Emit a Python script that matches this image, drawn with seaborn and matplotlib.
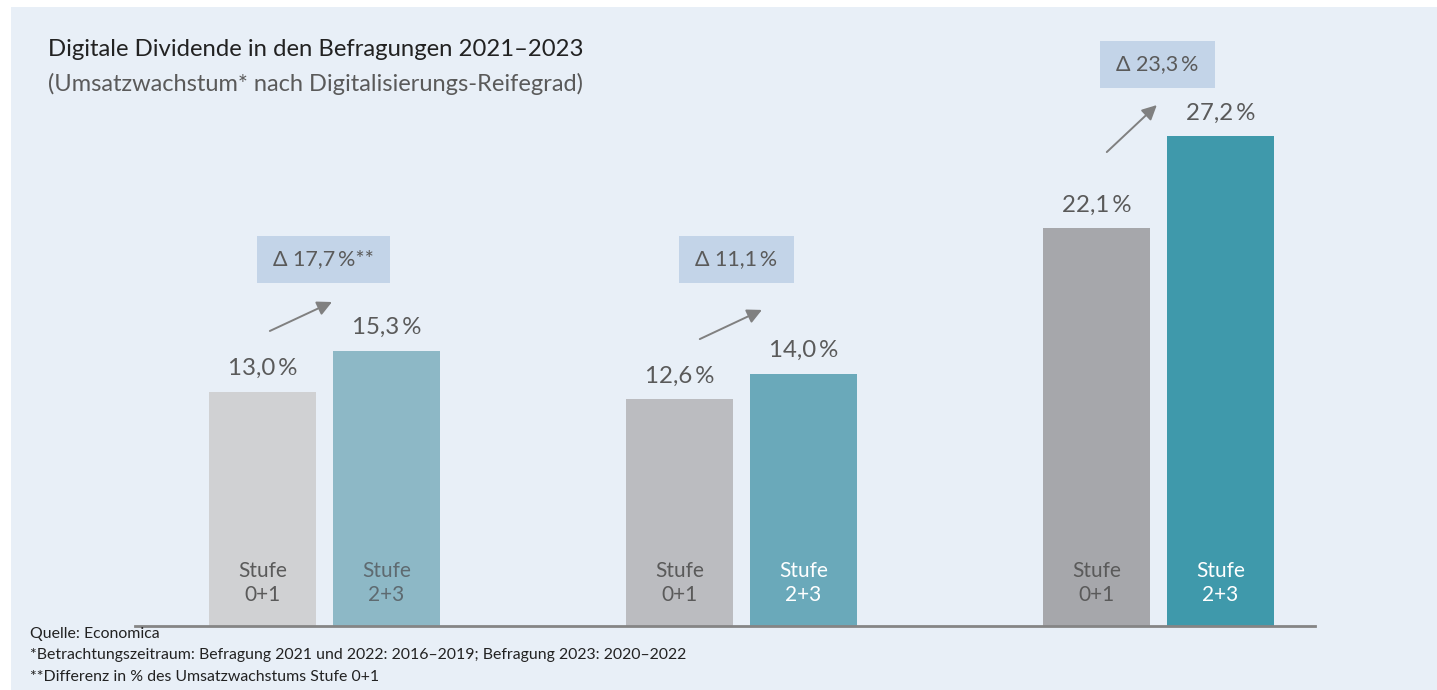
import numpy as np
import pandas as pd
import matplotlib
matplotlib.use("Agg")
import matplotlib.pyplot as plt
import seaborn as sns
from matplotlib.patches import Rectangle

# --- data
surveys = ["Befragung 2021", "Befragung 2022", "Befragung 2023"]
levels = ["Stufe 0+1", "Stufe 2+3"]
growth_low = [13.0, 12.6, 22.1]     # Stufe 0+1
growth_high = [15.3, 14.0, 27.2]    # Stufe 2+3
delta_labels = ["\u0394 17,7\u2009%**", "\u0394 11,1\u2009%", "\u0394 23,3\u2009%"]
bar_labels = ["Stufe\n0+1", "Stufe\n2+3"]

# --- styling
BG = "#e8eff7"
BOX = "#c3d4e8"
TXT = "#5a5a5a"
low_colors = ["#d0d1d3", "#bbbcc0", "#a6a7ab"]
high_colors = ["#8db8c6", "#6aa9ba", "#3f99ab"]
inside_colors_high = ["#5e6a70", "white", "white"]

# layout (data coords) for the delta boxes / arrows
box_centers = [(-0.002, 20.36), (0.988, 20.36), (1.998, 31.19)]
box_widths = [0.319, 0.276, 0.276]
BOX_H = 2.61
arrows = [((-0.131, 16.39), (0.018, 18.0)),
          ((0.900, 15.94), (1.049, 17.56)),
          ((1.876, 26.33), (1.996, 28.94))]

df = pd.DataFrame({
    "survey": surveys * 2,
    "level": [levels[0]] * 3 + [levels[1]] * 3,
    "value": growth_low + growth_high,
})

sns.set_theme(style="white")
plt.rcParams["font.family"] = ["Lato", "DejaVu Sans"]

W, H = 1437, 690
fig = plt.figure(figsize=(W / 100, H / 100), dpi=100, facecolor="white")
fig.patches.append(Rectangle((11 / W, 0), 1 - 11 / W, 1 - 7 / H,
                             transform=fig.transFigure, facecolor=BG,
                             edgecolor="none", zorder=-10))

ax = fig.add_axes([135 / W, (H - 626) / H, 1180 / W, 596 / H])
ax.set_facecolor("none")

sns.barplot(data=df, x="survey", y="value", hue="level", ax=ax,
            width=0.595, gap=0.137, legend=False, saturation=1)

# per-bar colours
for cont, cols in zip(ax.containers, [low_colors, high_colors]):
    for patch, c in zip(cont.patches, cols):
        patch.set_facecolor(c)
        patch.set_edgecolor("none")

ax.set_xlim(-0.4544, 2.3753)
ax.set_ylim(0, 596 / 18)
ax.set_xlabel("")
ax.set_ylabel("")
ax.set_xticks([])
ax.set_yticks([])
for side in ["top", "right", "left"]:
    ax.spines[side].set_visible(False)
ax.spines["bottom"].set_color("#858585")
ax.spines["bottom"].set_linewidth(2)

# value labels + inside labels
for k, cont in enumerate(ax.containers):
    for i, patch in enumerate(cont.patches):
        xc = patch.get_x() + patch.get_width() / 2
        v = patch.get_height()
        ax.annotate(f"{v:.1f}".replace(".", ",") + "\u2009%", (xc, v),
                    xytext=(0, 12), textcoords="offset points",
                    ha="center", va="baseline", fontsize=17.3, color=TXT)
        col = TXT if k == 0 else inside_colors_high[i]
        ax.text(xc, 2.39, bar_labels[k], ha="center", va="center",
                fontsize=15, color=col, linespacing=1.25)

# delta boxes and arrows
for (cx, cy), bw, lab in zip(box_centers, box_widths, delta_labels):
    ax.add_patch(Rectangle((cx - bw / 2, cy - BOX_H / 2), bw, BOX_H,
                           facecolor=BOX, edgecolor="none", clip_on=False))
    ax.text(cx, cy, lab, ha="center", va="center", fontsize=15.5, color=TXT)
for start, end in arrows:
    ax.annotate("", xy=end, xytext=start,
                arrowprops=dict(arrowstyle="-|>", color="#808080", lw=1.4,
                                mutation_scale=22, shrinkA=0, shrinkB=0))

# title / subtitle / footnotes
fig.text(48 / W, 1 - 50 / H, "Digitale Dividende in den Befragungen 2021\u20132023",
         fontsize=17.2, color="#222222", va="center", ha="left")
fig.text(48 / W, 1 - 84 / H, "(Umsatzwachstum* nach Digitalisierungs-Reifegrad)",
         fontsize=17.0, color="#5a5a5a", va="center", ha="left")
notes = ["Quelle: Economica",
         "*Betrachtungszeitraum: Befragung 2021 und 2022: 2016\u20132019; Befragung 2023: 2020\u20132022",
         "**Differenz in % des Umsatzwachstums Stufe 0+1"]
for yy, n in zip([634, 655, 677], notes):
    fig.text(30 / W, 1 - yy / H, n, fontsize=11.4, color="#222222",
             va="center", ha="left")

fig.savefig("out.png", dpi=100, facecolor="white")
